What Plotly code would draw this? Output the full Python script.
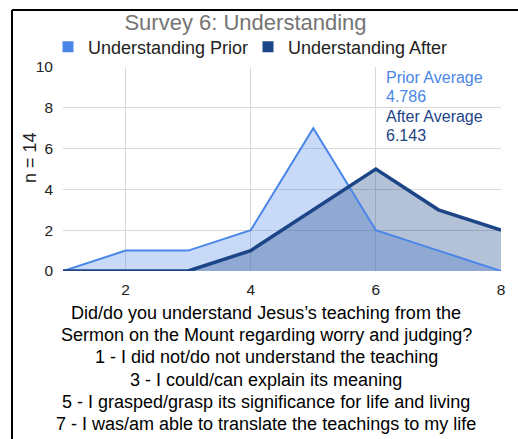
import plotly.graph_objects as go

# Survey responses: count of participants choosing each score
scores = [1, 2, 3, 4, 5, 6, 7, 8]
prior_counts = [0, 1, 1, 2, 7, 2, 1, 0]
after_counts = [0, 0, 0, 1, 3, 5, 3, 2]

x_ticks = [2, 4, 6, 8]
y_ticks = [0, 2, 4, 6, 8, 10]

question_lines = [
    "Did/do you understand Jesus\u2019s teaching from the",
    "Sermon on the Mount regarding worry and judging?",
    "1 - I did not/do not understand the teaching",
    "3 - I could/can explain its meaning",
    "5 - I grasped/grasp its significance for life and living",
    "7 - I was/am able to translate the teachings to my life",
]

PRIOR_COLOR = "#4a86e8"
AFTER_COLOR = "#1c4587"
FONT = "Liberation Sans, Arial, sans-serif"

n_total = sum(prior_counts)
prior_avg = sum(s * c for s, c in zip(scores, prior_counts)) / sum(prior_counts)
after_avg = sum(s * c for s, c in zip(scores, after_counts)) / sum(after_counts)

W, H = 518, 439
M_L, M_R, M_T, M_B = 63, 17, 67, 168
PW, PH = W - M_L - M_R, H - M_T - M_B


def px_x(px):
    return (px - M_L) / PW


def px_y(py):
    return (H - M_B - py) / PH


fig = go.Figure()

# Filled areas first so both outlines sit on top of them
fig.add_trace(go.Scatter(x=scores, y=prior_counts, mode="none", fill="tozeroy",
                         fillcolor="rgba(74,134,232,0.30)", showlegend=False,
                         hoverinfo="skip"))
fig.add_trace(go.Scatter(x=scores, y=after_counts, mode="none", fill="tozeroy",
                         fillcolor="rgba(28,69,135,0.33)", showlegend=False,
                         hoverinfo="skip"))
fig.add_trace(go.Scatter(x=scores, y=prior_counts, mode="lines",
                         line=dict(color=PRIOR_COLOR, width=2),
                         name="Understanding Prior", showlegend=False))
fig.add_trace(go.Scatter(x=scores, y=after_counts, mode="lines",
                         line=dict(color=AFTER_COLOR, width=3.5),
                         name="Understanding After", showlegend=False))

# Square legend keys
fig.add_trace(go.Scatter(x=[None], y=[None], mode="markers",
                         marker=dict(symbol="square", size=11, color=PRIOR_COLOR),
                         name="Understanding Prior"))
fig.add_trace(go.Scatter(x=[None], y=[None], mode="markers",
                         marker=dict(symbol="square", size=11, color=AFTER_COLOR),
                         name="Understanding After"))

# Average labels, one annotation per text line
avg_labels = [
    ("Prior Average", PRIOR_COLOR, 77.7),
    (f"{prior_avg:.3f}", PRIOR_COLOR, 96.7),
    ("After Average", AFTER_COLOR, 116.7),
    (f"{after_avg:.3f}", AFTER_COLOR, 135.5),
]
annotations = []
for text, color, py in avg_labels:
    annotations.append(dict(text=text, x=px_x(383.5), y=px_y(py),
                            xref="paper", yref="paper", xanchor="left",
                            yanchor="middle", align="left", showarrow=False,
                            font=dict(size=16, color=color, family=FONT)))

annotations.append(dict(text=f"n = {n_total}", x=px_x(30), y=px_y(158),
                        xref="paper", yref="paper", textangle=-90, showarrow=False,
                        xanchor="center", yanchor="middle",
                        font=dict(size=18, color="#222222", family=FONT)))

for i, line in enumerate(question_lines):
    annotations.append(dict(text=line, x=px_x(266), y=px_y(313 + 22.2 * i),
                            xref="paper", yref="paper", showarrow=False,
                            xanchor="center", yanchor="middle",
                            font=dict(size=18, color="#000000", family=FONT)))

# Frame lines along the left and top of the card
shapes = [
    dict(type="line", xref="paper", yref="paper", x0=px_x(12), x1=px_x(12),
         y0=px_y(H + 2), y1=px_y(10), line=dict(color="black", width=2)),
    dict(type="line", xref="paper", yref="paper", x0=px_x(12), x1=px_x(W + 2),
         y0=px_y(10), y1=px_y(10), line=dict(color="black", width=2)),
]

fig.update_layout(
    width=W, height=H,
    margin=dict(l=M_L, r=M_R, t=M_T, b=M_B),
    paper_bgcolor="white", plot_bgcolor="white",
    font=dict(family=FONT, color="#222222"),
    title=dict(text="Survey 6: Understanding", x=245.5 / W, y=1 - 22 / H,
               xref="container", yref="container", xanchor="center", yanchor="middle",
               font=dict(size=22, color="#757575", family=FONT)),
    legend=dict(orientation="h", x=px_x(48), y=px_y(47), xanchor="left",
                yanchor="middle", font=dict(size=18, color="#222222", family=FONT),
                bgcolor="rgba(0,0,0,0)", itemclick=False,
                entrywidth=155, entrywidthmode="pixels"),
    xaxis=dict(range=[1, 8], tickvals=x_ticks, showgrid=True, gridcolor="#d9d9d9",
               zeroline=False, showline=False, ticks="", ticklabelstandoff=7,
               tickfont=dict(size=15.5, color="#222222", family=FONT)),
    yaxis=dict(range=[0, 10], tickvals=y_ticks, showgrid=True, gridcolor="#d9d9d9",
               zeroline=False, showline=False, ticks="", ticklabelstandoff=9,
               tickfont=dict(size=15.5, color="#222222", family=FONT)),
    annotations=annotations,
    shapes=shapes,
    hovermode=False,
)

fig.write_html("out.html")
